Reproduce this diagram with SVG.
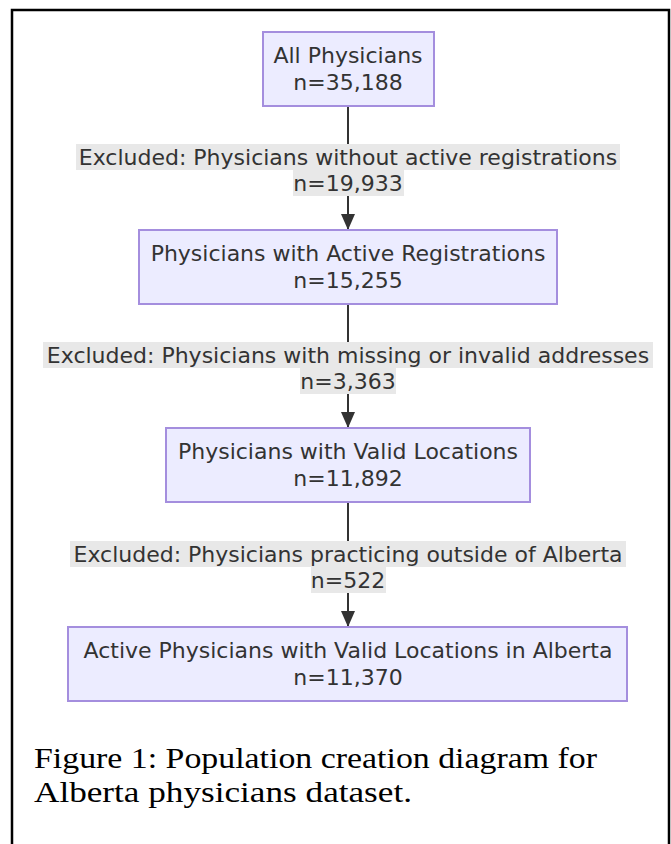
<svg xmlns="http://www.w3.org/2000/svg" width="671" height="844" viewBox="0 0 671 844">
<style>
.node rect{fill:#ECECFF;stroke:#a48ede;stroke-width:2}
.t{font-family:"DejaVu Sans",sans-serif;font-size:22px;fill:#333;text-anchor:middle}
.lbg{fill:#e8e8e8}
.edge{stroke:#333;stroke-width:2;fill:none}
.cap{font-family:"Liberation Serif",serif;font-size:30px;fill:#000}
</style>
<defs>
<marker id="arr" viewBox="0 0 10 10" refX="10" refY="5" markerWidth="8" markerHeight="8" markerUnits="userSpaceOnUse" orient="auto">
<path d="M0,0 L10,5 L0,10 z" fill="#333"/>
</marker>
<marker id="arrow" viewBox="0 0 16 16" refX="16" refY="8" markerWidth="16" markerHeight="16" markerUnits="userSpaceOnUse" orient="auto">
<path d="M0,1 L16,8 L0,15 z" fill="#333"/>
</marker>
</defs>
<rect width="671" height="844" fill="#fff"/>
<path d="M12,844 V10 H669 V844" fill="none" stroke="#000" stroke-width="2.5"/>

<g id="edges">
<line class="edge" x1="348" y1="106" x2="348" y2="230" marker-end="url(#arrow)"/>
<line class="edge" x1="348" y1="304" x2="348" y2="428" marker-end="url(#arrow)"/>
<line class="edge" x1="348" y1="502" x2="348" y2="627" marker-end="url(#arrow)"/>
</g>

<g id="label1">
<rect class="lbg" x="76" y="144" width="544" height="26"/>
<rect class="lbg" x="293" y="170" width="111" height="26"/>
<text class="t" x="348" y="165">Excluded: Physicians without active registrations</text>
<text class="t" x="348" y="191">n=19,933</text>
</g>
<g id="label2">
<rect class="lbg" x="43" y="342" width="610" height="26"/>
<rect class="lbg" x="300" y="368" width="96" height="26"/>
<text class="t" x="348" y="363">Excluded: Physicians with missing or invalid addresses</text>
<text class="t" x="348" y="389">n=3,363</text>
</g>
<g id="label3">
<rect class="lbg" x="70" y="541" width="556" height="26"/>
<rect class="lbg" x="311" y="567" width="75" height="26"/>
<text class="t" x="348" y="562">Excluded: Physicians practicing outside of Alberta</text>
<text class="t" x="348" y="588">n=522</text>
</g>

<g id="node1" class="node">
<rect x="263" y="32" width="171" height="74"/>
<text class="t" x="348" y="63">All Physicians</text>
<text class="t" x="348" y="90">n=35,188</text>
</g>
<g id="node2" class="node">
<rect x="139" y="230" width="418" height="74"/>
<text class="t" x="348" y="261">Physicians with Active Registrations</text>
<text class="t" x="348" y="288">n=15,255</text>
</g>
<g id="node3" class="node">
<rect x="166" y="428" width="364" height="74"/>
<text class="t" x="348" y="459">Physicians with Valid Locations</text>
<text class="t" x="348" y="486">n=11,892</text>
</g>
<g id="node4" class="node">
<rect x="68" y="627" width="559" height="74"/>
<text class="t" x="348" y="658">Active Physicians with Valid Locations in Alberta</text>
<text class="t" x="348" y="685">n=11,370</text>
</g>

<g id="caption">
<text class="cap" x="34" y="768" textLength="563" lengthAdjust="spacingAndGlyphs">Figure 1: Population creation diagram for</text>
<text class="cap" x="34" y="802" textLength="378" lengthAdjust="spacingAndGlyphs">Alberta physicians dataset.</text>
</g>
</svg>
